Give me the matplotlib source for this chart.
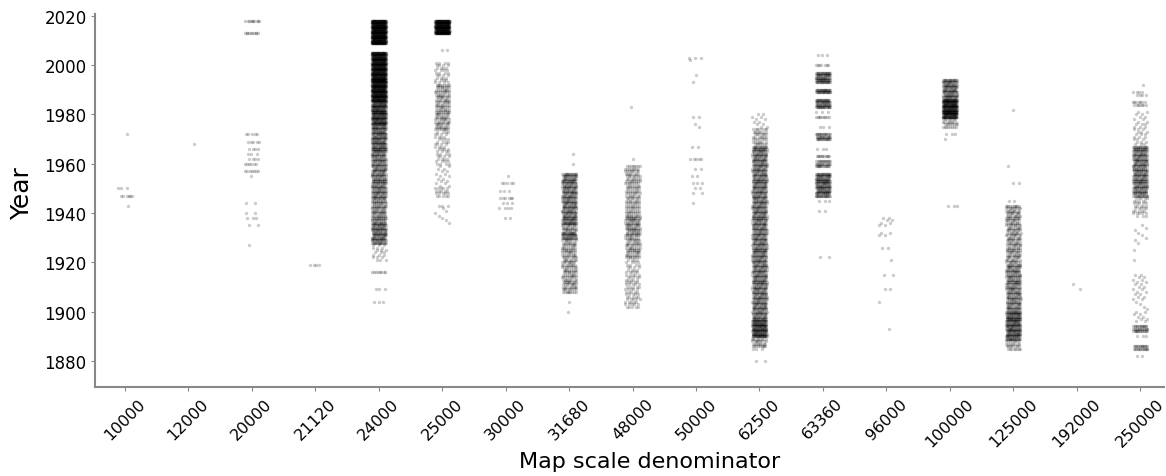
import numpy as np
import matplotlib
matplotlib.use("Agg")
import matplotlib.pyplot as plt

# Map scale categories (x axis)
categories = ['10000', '12000', '20000', '21120', '24000', '25000', '30000',
              '31680', '48000', '50000', '62500', '63360', '96000', '100000',
              '125000', '192000', '250000']

# Per-category density:
# (first_year, last_year, number_of_maps_per_year)
s10000 = [(1972, 1972, 1), (1950, 1950, 3), (1947, 1947, 6), (1943, 1943, 1)]
s12000 = [(1968, 1968, 1)]
s20000 = [(2018, 2018, 10), (2013, 2013, 10), (1972, 1972, 5), (1969, 1969, 5),
          (1966, 1966, 4), (1964, 1964, 3), (1962, 1962, 4), (1960, 1960, 6),
          (1957, 1957, 7), (1955, 1955, 1), (1944, 1944, 2), (1940, 1940, 2),
          (1938, 1938, 3), (1935, 1935, 2), (1927, 1927, 1)]
s21120 = [(1919, 1919, 4)]
s24000 = [(2009, 2018, 60), (1986, 2005, 50), (1976, 1985, 30), (1965, 1975, 20),
          (1946, 1964, 16), (1937, 1945, 13), (1928, 1936, 18), (1921, 1927, 3),
          (1916, 1916, 8), (1909, 1909, 3), (1904, 1904, 3)]
s25000 = [(2013, 2018, 60), (2006, 2006, 2), (1993, 2001, 4), (1974, 1992, 9),
          (1960, 1973, 4), (1951, 1959, 2), (1947, 1950, 5), (1943, 1943, 3),
          (1936, 1942, 1)]
s30000 = [(1955, 1955, 1), (1952, 1952, 5), (1949, 1949, 3), (1946, 1946, 6),
          (1944, 1944, 3), (1942, 1942, 4), (1938, 1938, 2)]
s31680 = [(1964, 1964, 1), (1960, 1960, 1), (1937, 1956, 16), (1936, 1936, 24),
          (1933, 1935, 11), (1930, 1932, 19), (1908, 1929, 9), (1904, 1904, 1),
          (1900, 1900, 1)]
s48000 = [(1983, 1983, 1), (1962, 1962, 1), (1940, 1959, 8), (1931, 1939, 12),
          (1922, 1930, 9), (1917, 1921, 4), (1902, 1916, 5)]
s50000 = [(2003, 2003, 3), (2002, 2002, 1), (1996, 1996, 1), (1993, 1993, 1),
          (1979, 1979, 2), (1976, 1976, 1), (1975, 1975, 1), (1967, 1967, 2),
          (1962, 1962, 5), (1958, 1958, 2), (1955, 1955, 2), (1952, 1952, 3),
          (1950, 1950, 2), (1948, 1948, 2), (1944, 1944, 1)]
s62500 = [(1975, 1980, 2), (1968, 1974, 7), (1897, 1967, 16), (1890, 1896, 28),
          (1886, 1889, 9), (1885, 1885, 3), (1880, 1880, 2)]
s63360 = [(2004, 2004, 3), (2000, 2000, 7), (1993, 1997, 20), (1989, 1990, 22),
          (1983, 1986, 20), (1981, 1981, 3), (1979, 1979, 9), (1975, 1975, 3),
          (1970, 1972, 16), (1966, 1966, 3), (1963, 1963, 11), (1959, 1961, 14),
          (1947, 1956, 20), (1945, 1945, 3), (1941, 1941, 2), (1922, 1922, 2)]
s96000 = [(1935, 1938, 2), (1931, 1932, 2), (1926, 1926, 2), (1921, 1921, 1),
          (1915, 1915, 2), (1909, 1909, 2), (1904, 1904, 1), (1893, 1893, 1)]
s100000 = [(1987, 1994, 18), (1979, 1986, 40), (1975, 1978, 8), (1972, 1972, 3),
           (1970, 1970, 1), (1943, 1943, 3)]
s125000 = [(1982, 1982, 1), (1959, 1959, 1), (1952, 1952, 2), (1945, 1945, 2),
           (1920, 1943, 10), (1901, 1919, 14), (1889, 1900, 22), (1885, 1888, 8)]
s192000 = [(1911, 1911, 1), (1909, 1909, 1)]
s250000 = [(1992, 1992, 1), (1988, 1989, 4), (1984, 1985, 7), (1977, 1981, 2),
           (1968, 1976, 3), (1947, 1967, 16), (1940, 1946, 5), (1939, 1939, 3),
           (1928, 1935, 1), (1925, 1925, 1), (1921, 1921, 1), (1910, 1915, 2),
           (1905, 1909, 2), (1901, 1904, 1), (1896, 1900, 2), (1892, 1894, 14),
           (1890, 1890, 3), (1885, 1886, 14), (1882, 1882, 2)]

series = [s10000, s12000, s20000, s21120, s24000, s25000, s30000, s31680,
          s48000, s50000, s62500, s63360, s96000, s100000, s125000, s192000,
          s250000]

# Expand to individual points with deterministic (quasi-random) strip jitter
xs, ys = [], []
jitter_width = 0.23
for ci, segs in enumerate(series):
    for (y0, y1, n) in segs:
        for yr in range(y0, y1 + 1):
            for k in range(n):
                off = ((k * 0.6180339887 + yr * 0.7548776662 + ci * 0.31) % 1.0) - 0.5
                xs.append(ci + off * jitter_width)
                ys.append(yr)

fig = plt.figure(figsize=(11.66, 4.77), dpi=100)
ax = fig.add_axes([0.0815, 0.1866, 0.917, 0.782])
ax.scatter(xs, ys, s=6, c='black', alpha=0.2, linewidths=0)

ax.set_xlim(-0.473, 16.38)
ax.set_ylim(1869.4, 2020.8)
ax.set_xticks(range(len(categories)))
ax.set_xticklabels(categories, rotation=45, ha='center', fontsize=11.5)
ax.set_yticks(range(1880, 2021, 20))
ax.tick_params(axis='y', labelsize=12, length=3, color='#888888', pad=3)
ax.tick_params(axis='x', length=3, color='#888888', pad=3)
for side in ['top', 'right']:
    ax.spines[side].set_visible(False)
for side in ['left', 'bottom']:
    ax.spines[side].set_color('#888888')
    ax.spines[side].set_linewidth(1.5)

ax.set_ylabel('Year', fontsize=18)
ax.yaxis.set_label_coords(-0.057, 0.52)
ax.set_xlabel('Map scale denominator', fontsize=16)
ax.xaxis.set_label_coords(0.519, -0.172)

fig.savefig('out.png', dpi=100)
